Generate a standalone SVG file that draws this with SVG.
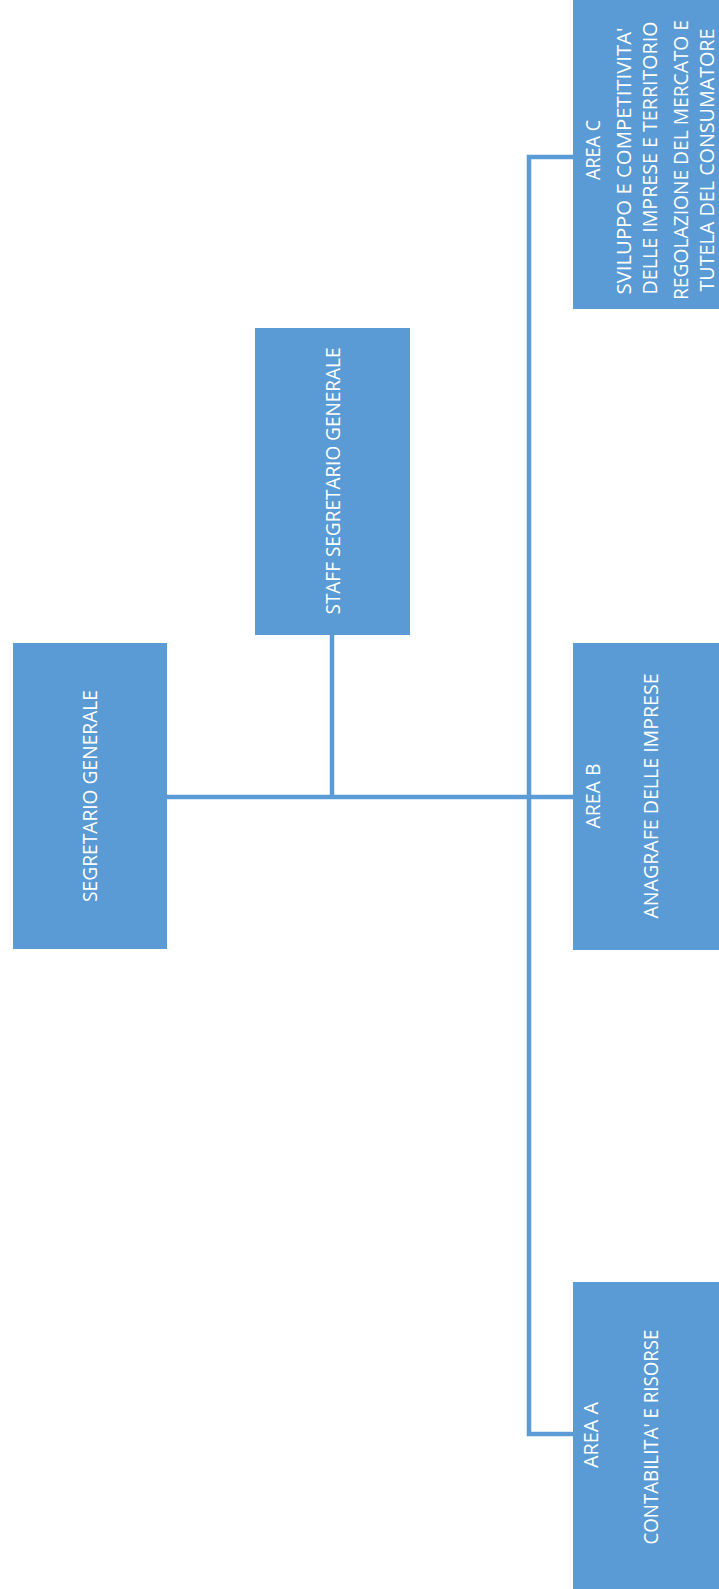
<svg xmlns="http://www.w3.org/2000/svg" width="719" height="1589" viewBox="0 0 719 1589">
<style>
.box{fill:#5b9bd5}
.t{font-family:"Open Sans","Liberation Sans",sans-serif;font-size:20px;fill:#ffffff;text-anchor:middle}
.c{fill:none;stroke:#5b9bd5;stroke-width:4.5}
</style>
<rect width="719" height="1589" fill="#ffffff"/>
<g id="connectors">
<line class="c" x1="167" y1="797" x2="573" y2="797"/>
<line class="c" x1="332" y1="635" x2="332" y2="797"/>
<polyline class="c" points="573,157 529,157 529,1434 573,1434"/>
</g>
<g id="segretario">
<rect class="box" x="13" y="643" width="154" height="306"/>
<text class="t" transform="translate(97,796) rotate(-90)" textLength="212" lengthAdjust="spacingAndGlyphs">SEGRETARIO GENERALE</text>
</g>
<g id="staff">
<rect class="box" x="255" y="328" width="155" height="307"/>
<text class="t" transform="translate(340,481) rotate(-90)" textLength="267" lengthAdjust="spacingAndGlyphs">STAFF SEGRETARIO GENERALE</text>
</g>
<g id="areaC">
<rect class="box" x="573" y="-2" width="150" height="311"/>
<text class="t" transform="translate(600,150) rotate(-90)" textLength="60" lengthAdjust="spacingAndGlyphs">AREA C</text>
<text class="t" transform="translate(631,161) rotate(-90)" textLength="267" lengthAdjust="spacingAndGlyphs">SVILUPPO E COMPETITIVITA'</text>
<text class="t" transform="translate(657,158) rotate(-90)" textLength="273" lengthAdjust="spacingAndGlyphs">DELLE IMPRESE E TERRITORIO</text>
<text class="t" transform="translate(688,160) rotate(-90)" textLength="280" lengthAdjust="spacingAndGlyphs">REGOLAZIONE DEL MERCATO E</text>
<text class="t" transform="translate(714,160) rotate(-90)" textLength="263" lengthAdjust="spacingAndGlyphs">TUTELA DEL CONSUMATORE</text>
</g>
<g id="areaB">
<rect class="box" x="573" y="643" width="150" height="307"/>
<text class="t" transform="translate(600,796) rotate(-90)" textLength="65" lengthAdjust="spacingAndGlyphs">AREA B</text>
<text class="t" transform="translate(658,796) rotate(-90)" textLength="245" lengthAdjust="spacingAndGlyphs">ANAGRAFE DELLE IMPRESE</text>
</g>
<g id="areaA">
<rect class="box" x="573" y="1282" width="150" height="310"/>
<text class="t" transform="translate(598,1435) rotate(-90)" textLength="66" lengthAdjust="spacingAndGlyphs">AREA A</text>
<text class="t" transform="translate(658,1437) rotate(-90)" textLength="215" lengthAdjust="spacingAndGlyphs">CONTABILITA' E RISORSE</text>
</g>
</svg>
